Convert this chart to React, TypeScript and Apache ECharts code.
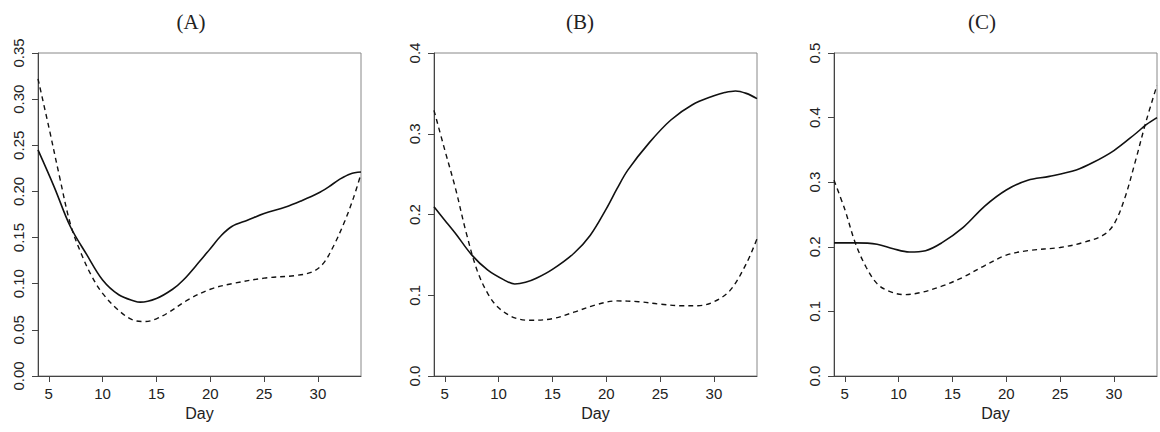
import React, { useEffect, useRef } from "react";
import * as echarts from "echarts";

const panelTitles = ["(A)", "(B)", "(C)"];
const xTicks = [5, 10, 15, 20, 25, 30];
const yMaxes = [0.35, 0.4, 0.5];
const yIntervals = [0.05, 0.1, 0.1];
const yDecimals = [2, 1, 1];

const solidA: [number, number][] = [
  [4, 0.245], [5.5, 0.205], [7, 0.162], [8.5, 0.132], [10, 0.104], [11.5, 0.088], [13, 0.081], [13.5, 0.080],
  [15, 0.084], [16.5, 0.094], [17.5, 0.104], [19, 0.124], [20, 0.138], [21, 0.152], [22, 0.162], [23.5, 0.169],
  [25, 0.176], [27, 0.183], [28.5, 0.190], [30, 0.198], [31, 0.205], [32, 0.213], [33, 0.219], [34, 0.221],
];
const dashedA: [number, number][] = [
  [4, 0.322], [5, 0.27], [6, 0.216], [7, 0.165], [8, 0.133], [9, 0.108], [10, 0.0895], [11.5, 0.071], [13, 0.060],
  [14, 0.059], [15, 0.062], [16, 0.068], [18, 0.083], [20, 0.094], [22, 0.100], [25, 0.106], [28, 0.109],
  [29.5, 0.113], [30.5, 0.122], [31.5, 0.142], [32.5, 0.168], [33.3, 0.193], [34, 0.219],
];

const solidB: [number, number][] = [
  [4, 0.2095], [5, 0.193], [6, 0.1765], [7.5, 0.150], [9, 0.131], [10.5, 0.119], [11.5, 0.114], [12.5, 0.116],
  [13.5, 0.121], [15, 0.132], [17, 0.152], [18.5, 0.174], [20, 0.207], [21, 0.232], [22, 0.255], [24, 0.289],
  [26, 0.317], [28, 0.336], [30, 0.347], [31, 0.351], [32, 0.353], [33, 0.350], [34, 0.3435],
];
const dashedB: [number, number][] = [
  [4, 0.329], [5, 0.28], [6, 0.232], [7, 0.177], [8, 0.131], [9, 0.102], [10, 0.0845], [11.5, 0.072], [13, 0.069],
  [15, 0.071], [17, 0.079], [19, 0.088], [21, 0.093], [23, 0.092], [25, 0.089], [27, 0.087], [28.5, 0.087],
  [30, 0.092], [31.5, 0.106], [33, 0.139], [34, 0.170],
];

const solidC: [number, number][] = [
  [4, 0.206], [6, 0.206], [8, 0.204], [9.5, 0.197], [11, 0.192], [12.5, 0.194], [14, 0.206], [16, 0.230],
  [18, 0.263], [20, 0.288], [22, 0.303], [24, 0.309], [26.5, 0.319], [28, 0.330], [30, 0.349], [32, 0.375],
  [33, 0.389], [34, 0.400],
];
const dashedC: [number, number][] = [
  [4, 0.303], [5, 0.258], [6, 0.205], [7, 0.168], [8, 0.143], [9, 0.132], [10.5, 0.126], [12, 0.129], [14, 0.139],
  [16, 0.153], [18, 0.171], [20, 0.187], [22, 0.194], [25, 0.199], [27, 0.206], [29, 0.218], [30, 0.235],
  [31, 0.275], [32, 0.333], [33, 0.395], [34, 0.450],
];

const solidSeries = [solidA, solidB, solidC];
const dashedSeries = [dashedA, dashedB, dashedC];

const gridLefts = [38, 434, 834];
const gridWidth = 323;
const gridTop = 53;
const gridHeight = 323;
const titleXs = [191, 580, 982];

export default function App() {
  const ref = useRef<HTMLDivElement>(null);
  useEffect(() => {
    document.body.style.margin = "0";
    if (!ref.current) return;
    const chart = echarts.init(ref.current, null, { renderer: "svg" });
    const sans = '"Liberation Sans", Arial, sans-serif';
    const grids = gridLefts.map((l) => ({
      left: l,
      top: gridTop,
      width: gridWidth,
      height: gridHeight,
      show: true,
      borderColor: "#888",
      borderWidth: 1,
      backgroundColor: "transparent",
    }));
    const xAxes = gridLefts.map((_, i) => ({
      type: "value",
      gridIndex: i,
      min: 4,
      max: 34,
      name: "Day",
      nameLocation: "middle",
      nameGap: 27,
      nameTextStyle: { fontFamily: sans, fontSize: 16, color: "#222", verticalAlign: "top" },
      axisLine: { show: true, onZero: false, lineStyle: { color: "#444", width: 1 } },
      axisTick: { show: true, length: 6, customValues: xTicks, lineStyle: { color: "#444" } },
      axisLabel: { customValues: xTicks, fontFamily: sans, fontSize: 15, color: "#222", margin: 10 },
      splitLine: { show: false },
    }));
    const yAxes = gridLefts.map((_, i) => ({
      type: "value",
      gridIndex: i,
      min: 0,
      max: yMaxes[i],
      interval: yIntervals[i],
      axisLine: { show: true, lineStyle: { color: "#444", width: 1 } },
      axisTick: { show: true, length: 6, lineStyle: { color: "#444" } },
      axisLabel: {
        rotate: 90,
        fontFamily: sans,
        fontSize: 15,
        color: "#222",
        margin: 12,
        showMaxLabel: true,
        showMinLabel: true,
        formatter: (v: number) => v.toFixed(yDecimals[i]),
      },
      splitLine: { show: false },
    }));
    const series: any[] = [];
    gridLefts.forEach((_, i) => {
      series.push({
        type: "line",
        xAxisIndex: i,
        yAxisIndex: i,
        data: solidSeries[i],
        smooth: 0.35,
        showSymbol: false,
        clip: true,
        lineStyle: { color: "#111", width: 1.6, type: "solid" },
      });
      series.push({
        type: "line",
        xAxisIndex: i,
        yAxisIndex: i,
        data: dashedSeries[i],
        smooth: 0.35,
        showSymbol: false,
        clip: true,
        lineStyle: { color: "#111", width: 1.4, type: [5, 4] },
      });
    });
    chart.setOption({
      animation: false,
      backgroundColor: "#fff",
      grid: grids,
      xAxis: xAxes,
      yAxis: yAxes,
      series,
      graphic: panelTitles.map((t, i) => ({
        type: "text",
        x: titleXs[i],
        y: 22,
        style: {
          text: t,
          align: "center",
          verticalAlign: "middle",
          font: '21px "Liberation Serif", "Times New Roman", serif',
          fill: "#222",
        },
      })),
    });
    return () => chart.dispose();
  }, []);
  return <div ref={ref} style={{ width: 1160, height: 432 }} />;
}
